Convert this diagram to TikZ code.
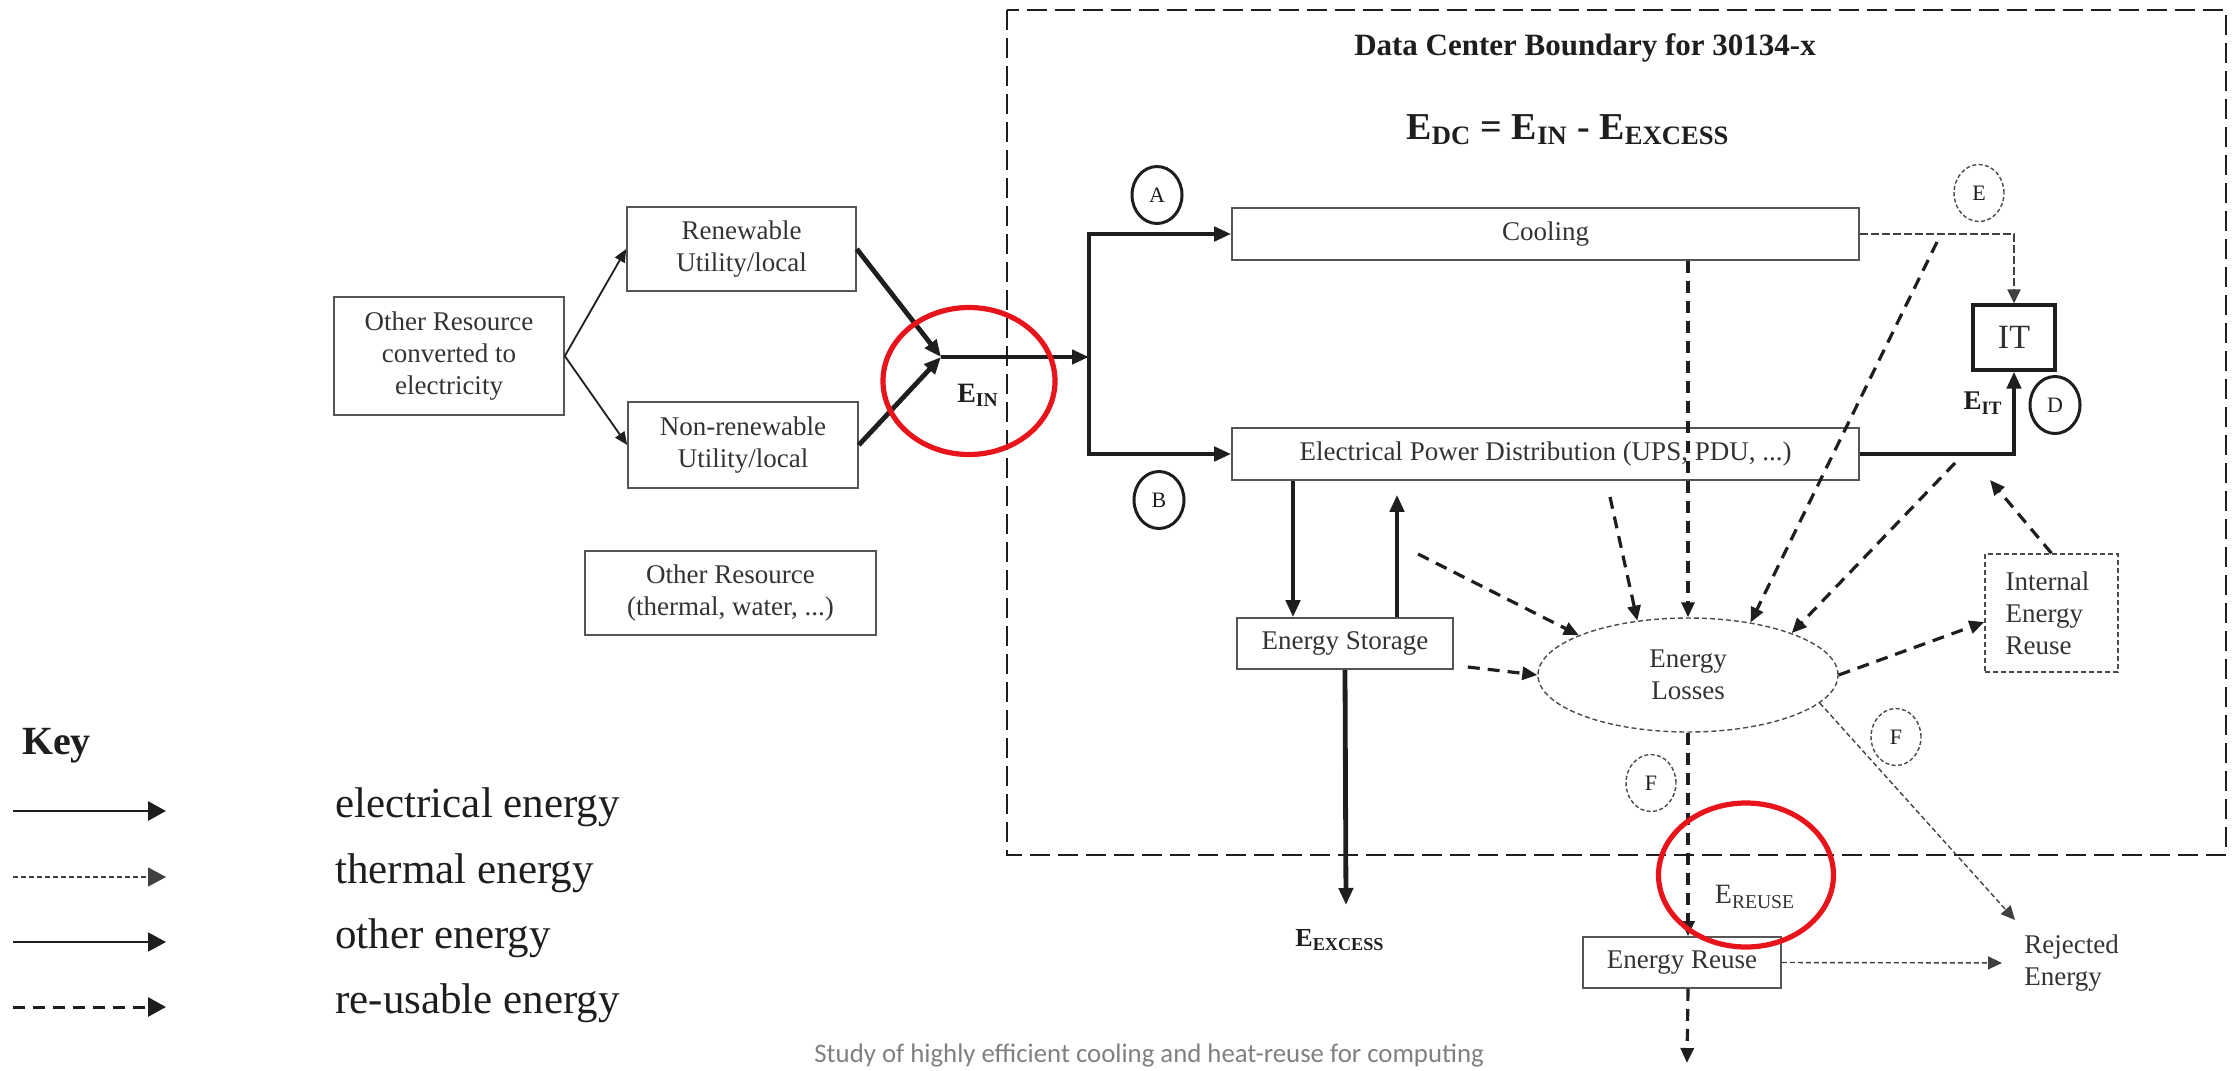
\documentclass[tikz,border=0pt]{standalone}
\usepackage{fontspec}
\setmainfont{Liberation Serif}
\newfontfamily\capfont{Carlito}
\usetikzlibrary{arrows.meta,shapes.geometric}
\definecolor{ink}{HTML}{1E1E1E}
\definecolor{txt}{HTML}{333333}
\definecolor{boxline}{HTML}{555555}
\definecolor{ringred}{HTML}{E8141B}
\definecolor{capgray}{HTML}{808080}

\begin{document}
\begin{tikzpicture}[x=0.5pt,y=-0.5pt,
  box/.style={draw=boxline, line width=0.8pt, text=txt, align=center, inner sep=0pt, font=\fontsize{13.5}{16}\selectfont},
  elecflow/.style={draw=ink, line width=2.4pt, -{Triangle[length=8.5pt,width=7pt]}},
  otherflow/.style={draw=ink, line width=0.9pt, -{Triangle[length=6.5pt,width=5.5pt]}},
  thermflow/.style={draw=ink!85, line width=0.7pt, dash pattern=on 2.5pt off 1.5pt, -{Triangle[length=7pt,width=6.5pt]}},
  reuseflow/.style={draw=ink, line width=1.6pt, dash pattern=on 6pt off 4pt, -{Triangle[length=7.5pt,width=6.5pt]}},
  circlab/.style={ellipse, draw=ink, line width=1.5pt, minimum width=25pt, minimum height=28.5pt, inner sep=0pt, text=ink, font=\fontsize{11}{12}\selectfont},
  dcirclab/.style={circlab, draw=ink!80, line width=0.7pt, dash pattern=on 2pt off 1.2pt},
  elabel/.style={text=ink, font=\fontsize{14}{16}\selectfont\bfseries},
  ring/.style={ellipse, draw=ringred, line width=2.6pt, inner sep=0pt}
]
\useasboundingbox (0,0) rectangle (2239,1071);

% data center boundary
\draw[ink, line width=1.3pt, dash pattern=on 10pt off 4pt] (1007,10) rectangle (2226,855);
\node[anchor=base, text=ink, font=\fontsize{15.5}{18}\selectfont\bfseries] (title) at (1585,55) {Data Center Boundary for 30134-x};
\node[anchor=base, text=ink, font=\fontsize{19}{22}\selectfont\bfseries] (eqn) at (1568,139)
  {E\textsubscript{DC} = E\textsubscript{IN} - E\textsubscript{EXCESS}};

% sources
\node[box, minimum width=115pt, minimum height=59pt] (conv) at (449,356) {Other Resource\\converted to\\electricity};
\node[box, minimum width=114.5pt, minimum height=42pt] (renew) at (741.5,249) {Renewable\\Utility/local};
\node[box, minimum width=115pt, minimum height=43pt] (nonrenew) at (743,445) {Non-renewable\\Utility/local};
\node[box, minimum width=145.5pt, minimum height=42pt] (othres) at (730.5,593) {Other Resource\\(thermal, water, ...)};

% inside the boundary
\node[box, minimum width=313.5pt, minimum height=26pt] (cooling) at (1545.5,234) {Cooling};
\node[box, minimum width=313.5pt, minimum height=26pt] (epd) at (1545.5,454) {Electrical Power Distribution (UPS, PDU, ...)};
\node[box, draw=ink, line width=1.6pt, minimum width=41pt, minimum height=32.5pt, font=\fontsize{17}{18}\selectfont] (it) at (2014,337.5) {IT};
\node[box, minimum width=108pt, minimum height=25.5pt] (storage) at (1345,643.5) {Energy Storage};
\node[box, ellipse, draw=ink!80, line width=0.7pt, dash pattern=on 2.5pt off 1.5pt, minimum width=150pt, minimum height=57pt] (losses) at (1688,675) {Energy\\Losses};
\node[box, draw=ink!80, line width=0.7pt, dash pattern=on 2.5pt off 1.5pt, align=left, text width=46pt, inner xsep=10.25pt, minimum height=59pt] (internal) at (2051.5,613) {Internal\\Energy\\Reuse};
\node[box, minimum width=99pt, minimum height=25.5pt] (enreuse) at (1682,962.5) {Energy Reuse};
\node[anchor=west, align=left, text=txt, inner sep=0pt, font=\fontsize{13.5}{16}\selectfont] (rejected) at (2024,963) {Rejected\\Energy};

% labels
\node[elabel] (ein) at (978,395) {E\textsubscript{IN}};
\node[elabel, font=\fontsize{13.5}{16}\selectfont\bfseries] (eit) at (1983,403) {E\textsubscript{IT}};
\node[elabel, font=\fontsize{13}{16}\selectfont\bfseries] (excess) at (1340,940) {E\textsubscript{EXCESS}};
\node[text=txt, font=\fontsize{14}{16}\selectfont] (ereuse) at (1755,897) {E\textsubscript{REUSE}};
\node[circlab] (ca) at (1157,195) {A};
\node[circlab] (cb) at (1159,500) {B};
\node[circlab] (cd) at (2055,405) {D};
\node[dcirclab] (ce) at (1979,193) {E};
\node[dcirclab] (cf1) at (1651,783) {F};
\node[dcirclab] (cf2) at (1896,737) {F};

% electrical energy
\coordinate (jn) at (941,357);
\coordinate (split) at (1089,357);
\draw[otherflow] (conv.east) -- (renew.west);
\draw[otherflow] (conv.east) -- (nonrenew.west);
\draw[elecflow] (renew.east) -- (jn);
\draw[elecflow] (nonrenew.east) -- (jn);
\draw[elecflow] (jn) -- (split);
\draw[elecflow] (split) |- (cooling.west);
\draw[elecflow] (split) |- (epd.west);
\draw[elecflow] (epd.east) -| (it.south);
\coordinate (stdown) at ([xshift=-26pt]storage.north);
\coordinate (stup) at ([xshift=26pt]storage.north);
\coordinate (xs) at (1346,905);
\draw[elecflow] (stdown |- epd.south) -- (stdown);
\draw[elecflow, shorten >=7pt] (stup) -- (stup |- epd.south);
\draw[elecflow] (storage.south) -- (xs);

% re-usable energy
\coordinate (r1) at (1418,554);
\coordinate (r3) at (1610,497);
\coordinate (r5) at (1937,242);
\coordinate (r6) at (1955,463);
\coordinate (r8) at (1990,480);
\coordinate (down) at (1687,1063);
\draw[reuseflow] (r1) -- (losses.160);
\draw[reuseflow] ([shift={(7pt,-11.75pt)}]storage.east) -- (losses.west);
\draw[reuseflow] (r3) -- (losses.133);
\draw[reuseflow] (losses.north |- cooling.south) -- (losses.north);
\draw[reuseflow] (r5) -- (losses.40);
\draw[reuseflow] (r6) -- (losses.22);
\draw[reuseflow] (losses.east) -- ([yshift=-4.5pt]internal.west);
\draw[reuseflow] (internal.north) -- (r8);
\draw[reuseflow] (losses.south) -- (losses.south |- enreuse.north);
\draw[reuseflow] (losses.south |- enreuse.south) -- (down);

% thermal energy
\coordinate (rj) at (2015,920);
\draw[thermflow, line width=1.1pt, dash pattern=on 4pt off 1.5pt] (cooling.east) -| (it.north);
\draw[thermflow] (losses.-12) -- (rj);
\draw[thermflow, shorten >=11pt] (enreuse.east) -- (rejected.west);

% highlights
\node[ring, minimum width=86pt, minimum height=73.5pt] (ring1) at (969,381) {};
\node[ring, minimum width=87.5pt, minimum height=72pt] (ring2) at (1746,875) {};

% key
\node[anchor=base west, text=ink, font=\fontsize{20}{24}\selectfont\bfseries] (key) at (15,754) {Key};
\foreach \y/\s/\w/\t in {811/elecflow/1.4pt/electrical energy, 877/thermflow/0.7pt/thermal energy,
                         942/otherflow/0.9pt/other energy, 1007/reuseflow/1.5pt/re-usable energy} {
  \draw[\s, line width=\w, -{Triangle[length=9pt,width=9.5pt]}] (13,\y) -- (166,\y);
  \node[anchor=base west, text=ink, inner sep=0pt, font=\fontsize{21.5}{24}\selectfont] (k\y) at (335,\y+6) {\t};
}

% caption
\node[anchor=base west, inner sep=0pt, text=capgray, font=\capfont\fontsize{13.4}{15}\selectfont] (cap) at (814,1062)
  {Study of highly efficient cooling and heat-reuse for computing};
\end{tikzpicture}
\end{document}
